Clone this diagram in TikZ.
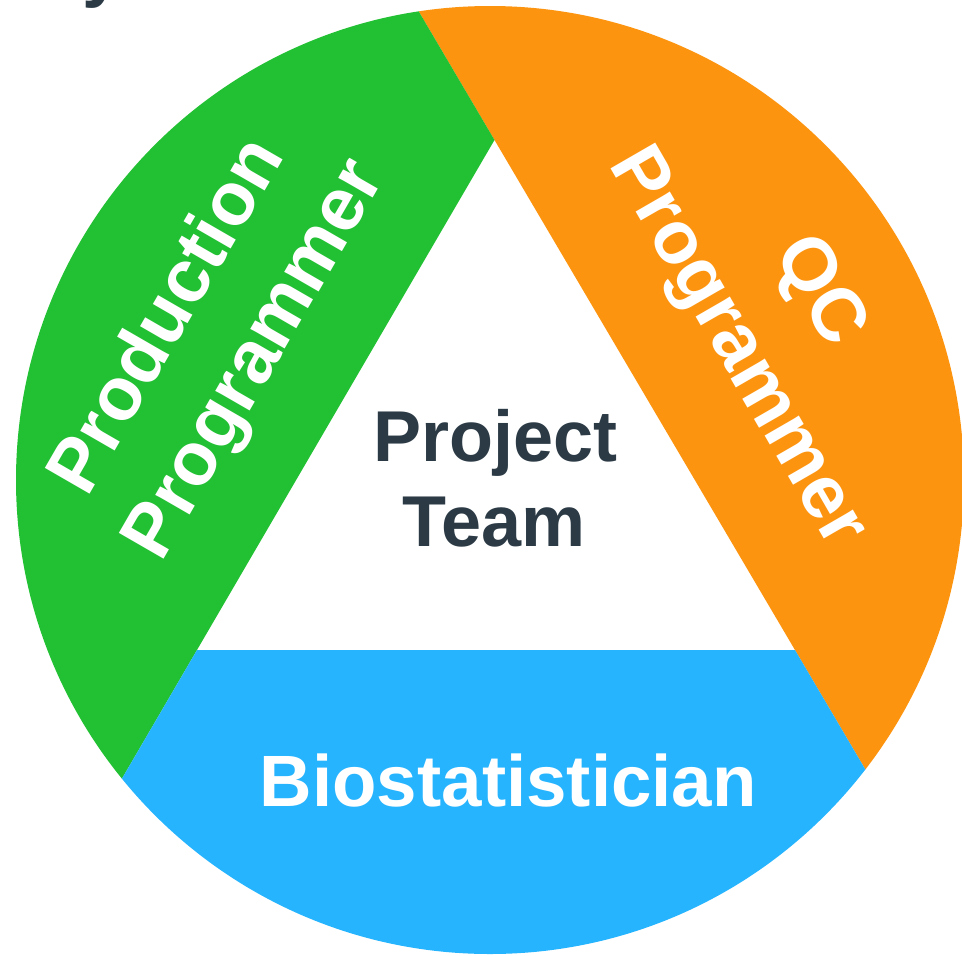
\documentclass[tikz,border=0pt]{standalone}
\usepackage{fontspec}
\setmainfont{Liberation Sans}
\definecolor{pgreen}{HTML}{22C033}
\definecolor{porange}{HTML}{FD9410}
\definecolor{pblue}{HTML}{27B4FF}
\definecolor{pdark}{HTML}{2B3A45}
\begin{document}
\begin{tikzpicture}[x=1pt,y=-1pt,
  ptext/.style={font=\bfseries\fontsize{72}{72}\selectfont, text=pdark, inner sep=0pt, anchor=base},
  wtext/.style={font=\bfseries\fontsize{72.7}{72.7}\selectfont, text=white, inner sep=0pt, anchor=base},
  rtext/.style={font=\bfseries\fontsize{75}{75}\selectfont, text=white, inner sep=0pt, anchor=base}]
\useasboundingbox (0,0) rectangle (962,956);
\coordinate (A) at (494.5,140);
\coordinate (BL) at (197,650);
\coordinate (BR) at (795,650);
\coordinate (L1top) at (344.25,-115);
\coordinate (L1bot) at (1001.2,1000);
\coordinate (L2bot) at (-7.2,1000);
\begin{scope}
  \clip (490,480) circle[radius=474pt];
  \fill[porange] (L1top) -- (L1bot) -- (1100,1000) -- (1100,-115) -- cycle;
  \fill[pgreen] (A) -- (L2bot) -- (-100,1000) -- (-100,-115) -- (L1top) -- cycle;
  \fill[pblue] (BL) -- (BR) -- (L1bot) -- (L2bot) -- cycle;
\end{scope}
% fragment of title above
\node[font=\bfseries\fontsize{72}{72}\selectfont, text=pdark, anchor=base west, inner sep=0pt] (ttl) at (82,-7) {y};
% centre
\node[ptext] (proj) at (495.5,461.7) {Project};
\node[ptext] (team) at (494,546.7) {Team};
% bottom
\node[wtext] (bio) at (508.3,806.7) {Biostatistician};
% left
\node[rtext, rotate=60] (prod1) at (186,327) {Production};
\node[rtext, rotate=60] (prod2) at (273.5,370) {Programmer};
% right
\node[rtext, rotate=-60] (qc1) at (801.5,301.5) {QC};
\node[rtext, rotate=-60] (qc2) at (719.5,357.8) {Programmer};
\end{tikzpicture}
\end{document}
